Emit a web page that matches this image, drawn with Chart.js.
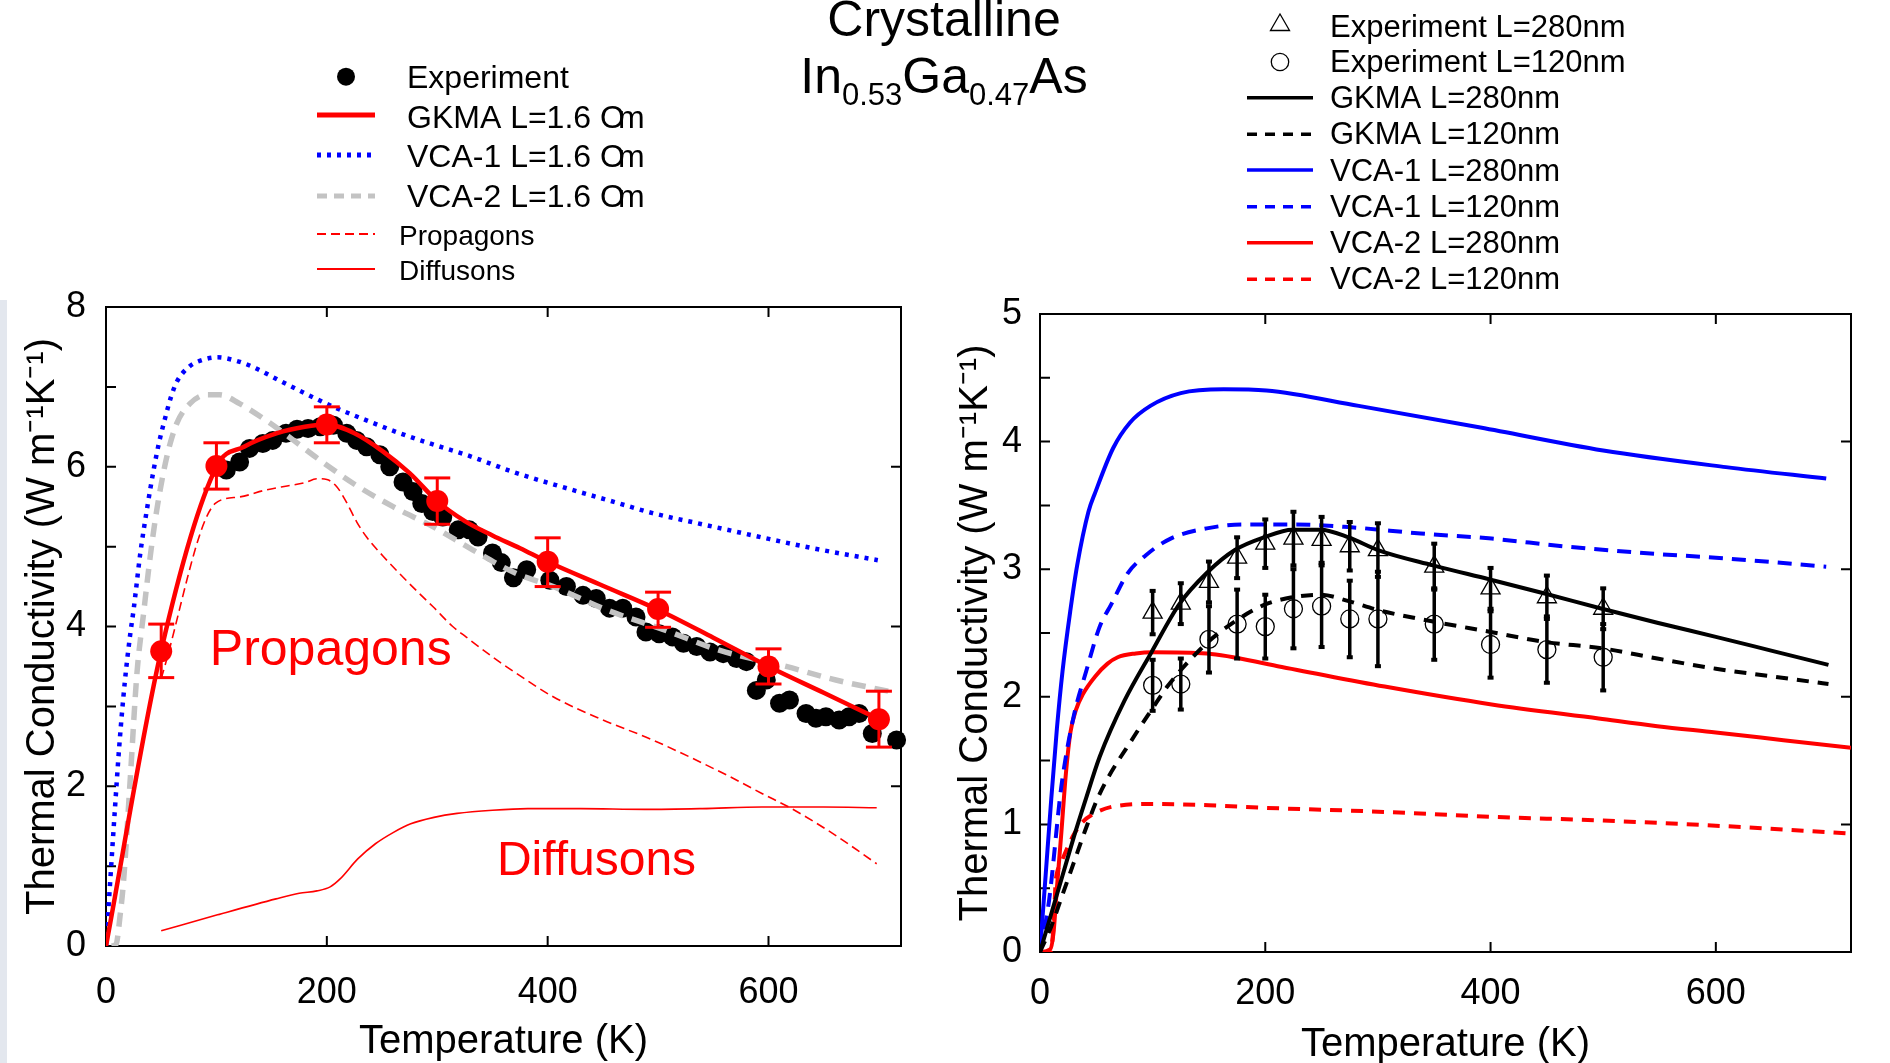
<!DOCTYPE html>
<html>
<head>
<meta charset="utf-8">
<script src="https://cdn.jsdelivr.net/npm/chart.js@4.4.1/dist/chart.umd.min.js"></script>
<style>
  html, body { margin: 0; padding: 0; background: #fff; }
  body { width: 1890px; height: 1063px; position: relative; overflow: hidden; font-family: "Liberation Sans", Arial, sans-serif; }
  canvas { position: absolute; top: 0; }
  #leftChart { left: 0; }
  #rightChart { left: 945px; }
  .title { position: absolute; left: 0; width: 1888px; text-align: center; font-size: 50px; line-height: 50px; color: #000; white-space: nowrap; }
  .title .sub { font-size: 31px; vertical-align: -12px; }
  #edge { position: absolute; left: 0; top: 300px; width: 7px; height: 763px; background: #e3e7ee; }
</style>
</head>
<body>
<div id="edge"></div>
<canvas id="leftChart" width="945" height="1063"></canvas>
<canvas id="rightChart" width="945" height="1063"></canvas>
<div class="title" style="top:-6px">Crystalline</div>
<div class="title" style="top:51px">In<span class="sub">0.53</span>Ga<span class="sub">0.47</span>As</div>
<script>
const FONT = "'Liberation Sans', Arial, sans-serif";
const RED = "#ff0000";
const BLUE = "#0000ff";
const GRAY = "#c3c3c3";
const BLACK = "#000000";

// ---- left panel, L = 1.6 um ----
const expT = [109,121,130,142,151,163,173,183,194,206,218,227,236,248,257,269,278,286,296,305,319,329,337,350,358,369,381,402,417,432,444,456,468,480,489,501,513,523,535,547,559,571,580,589,598,610,619,634,643,652,664,673,682,694,716];
const expK = [5.96,6.06,6.23,6.29,6.33,6.42,6.47,6.48,6.50,6.52,6.42,6.33,6.25,6.15,6.00,5.81,5.69,5.54,5.44,5.37,5.21,5.21,5.12,4.92,4.80,4.61,4.71,4.58,4.50,4.39,4.35,4.23,4.23,4.12,3.93,3.91,3.87,3.79,3.75,3.68,3.66,3.60,3.56,3.20,3.33,3.04,3.08,2.91,2.85,2.87,2.83,2.87,2.91,2.66,2.58];

const gkmaLineT = [0,50,100,125,155,180,200,225,251,275,300,325,350,375,400,450,500,550,600,650,700];
const gkmaLineK = [0,3.70,6.00,6.25,6.42,6.50,6.53,6.42,6.19,5.92,5.57,5.32,5.14,4.98,4.81,4.51,4.21,3.86,3.50,3.17,2.84];

const gkmaT = [50,100,200,300,400,500,600,700];
const gkmaK = [3.69,6.01,6.53,5.57,4.81,4.22,3.50,2.84];
const gkmaLo = [3.36,5.72,6.30,5.28,4.50,3.99,3.28,2.49];
const gkmaHi = [4.03,6.30,6.75,5.86,5.11,4.43,3.72,3.19];

const vca1T = [0,4,8,12,17,22,25,31,37,43,48,53,59,64,75,88,101,117,133,157,180,206,236,266,296,326,372,420,460,495,540,586,640,699];
const vca1K = [0,0.85,1.7,2.5,3.3,3.91,4.21,4.91,5.46,5.95,6.3,6.58,6.88,7.06,7.25,7.34,7.37,7.33,7.25,7.08,6.92,6.75,6.58,6.42,6.28,6.15,5.92,5.72,5.56,5.42,5.28,5.14,4.98,4.83];

const vca2T = [5,9,13,16,22,28,34,40,46,55,64,76,91,103,121,145,170,194,224,260,296,332,372,405,453,507,556,616,661,712];
const vca2K = [0,0.02,0.41,0.83,2.1,3.41,4.16,4.87,5.46,6.12,6.54,6.79,6.90,6.90,6.79,6.58,6.33,6.08,5.79,5.50,5.25,4.96,4.66,4.50,4.21,3.95,3.70,3.50,3.33,3.18];

const propT = [50,99,120,145,164,180,191,200,209,218,227,236,251,266,284,296,314,326,357,372,405,450,495,565,594,621,658,698];
const propK = [3.35,5.54,5.62,5.71,5.76,5.80,5.85,5.84,5.75,5.55,5.31,5.12,4.88,4.66,4.41,4.25,4.00,3.87,3.55,3.41,3.12,2.83,2.58,2.12,1.91,1.72,1.41,1.03];

const diffT = [50,101,154,175,191,203,212,228,244,260,276,297,318,350,382,430,488,540,594,650,698];
const diffK = [0.19,0.39,0.59,0.66,0.69,0.74,0.84,1.09,1.28,1.42,1.53,1.61,1.66,1.70,1.72,1.72,1.71,1.72,1.74,1.74,1.73];

// ---- right panel, L = 280 nm / 120 nm ----
const filmT = [100,125,150,175,200,225,250,275,300,350,400,450,500];
const exp280K = [2.66,2.73,2.90,3.09,3.20,3.24,3.23,3.18,3.15,3.02,2.85,2.78,2.69];
const exp280Err = [0.17,0.16,0.16,0.16,0.19,0.21,0.18,0.19,0.21,0.18,0.16,0.17,0.16];
const exp120K = [2.09,2.10,2.45,2.57,2.55,2.69,2.71,2.61,2.61,2.57,2.41,2.37,2.31];
const exp120Err = [0.20,0.20,0.26,0.27,0.25,0.31,0.32,0.30,0.37,0.28,0.26,0.26,0.26];

const gkma280T = [0,10,20,30,40,53,75,99,124,148,173,199,224,249,274,300,349,399,448,499,548,600,650,700];
const gkma280K = [0,0.3,0.6,0.9,1.18,1.53,1.97,2.35,2.73,2.97,3.15,3.25,3.31,3.31,3.25,3.15,3.03,2.92,2.81,2.69,2.58,2.47,2.36,2.25];
const gkma120T = [0,10,20,30,40,53,85,100,113,148,173,199,224,249,274,300,349,399,448,499,548,600,650,700];
const gkma120K = [0,0.2,0.45,0.7,0.95,1.24,1.71,1.91,2.08,2.42,2.59,2.72,2.78,2.80,2.75,2.68,2.59,2.51,2.43,2.38,2.30,2.22,2.16,2.10];

const vca1L280T = [0,5,10,15,20,27,33,43,49,65,80,98,125,163,201,283,391,500,609,698];
const vca1L280K = [0,0.6,1.2,1.75,2.2,2.68,3.03,3.45,3.6,3.95,4.15,4.28,4.38,4.41,4.40,4.28,4.11,3.93,3.80,3.71];
const vca1L120T = [0,8,19,30,41,53,63,78,94,116,148,180,227,274,338,401,464,546,600,698];
const vca1L120K = [0,0.4,1.3,1.85,2.2,2.55,2.72,2.97,3.11,3.24,3.32,3.35,3.35,3.33,3.28,3.24,3.18,3.12,3.09,3.02];

const vca2L280T = [0,9,12,15,19,23,27,32,38,49,60,69,85,100,148,211,306,401,496,548,600,660,720];
const vca2L280K = [0,0.02,0.15,0.5,0.94,1.4,1.72,1.9,2.02,2.16,2.26,2.31,2.34,2.35,2.34,2.24,2.08,1.94,1.83,1.77,1.72,1.66,1.60];
const vca2L120T = [0,9,12,14,18,22,30,38,49,65,100,150,200,300,400,500,600,716];
const vca2L120K = [0,0,0.2,0.56,0.68,0.77,0.92,1.02,1.09,1.14,1.16,1.15,1.13,1.10,1.06,1.03,0.99,0.93];

function pts(xs, ys) {
  return xs.map((x, i) => ({ x, y: ys[i] }));
}

function lineSet(label, xs, ys, color, width, dash) {
  return {
    label, data: pts(xs, ys), borderColor: color, backgroundColor: color,
    borderWidth: width, borderDash: dash || [], pointRadius: 0, showLine: true,
    cubicInterpolationMode: "monotone", fill: false,
  };
}

function markSet(label, xs, ys, style, radius, filled, color) {
  return {
    label, data: pts(xs, ys), showLine: false, pointStyle: style, pointRadius: radius,
    borderColor: color, backgroundColor: filled ? color : "rgba(0,0,0,0)",
    borderWidth: filled ? 0 : 1.3,
  };
}

// box around the plot with inward ticks on all four sides
function framePlugin(tickLen, rightStep) {
  return {
    id: "frame",
    beforeDatasetsDraw(chart) {
      const { ctx, chartArea: a, scales: { x, y } } = chart;
      ctx.save();
      ctx.strokeStyle = BLACK;
      ctx.lineWidth = 2;
      ctx.strokeRect(a.left, a.top, a.right - a.left, a.bottom - a.top);
      ctx.beginPath();
      x.ticks.forEach((t) => {
        const px = x.getPixelForValue(t.value);
        ctx.moveTo(px, a.bottom); ctx.lineTo(px, a.bottom - tickLen);
        ctx.moveTo(px, a.top); ctx.lineTo(px, a.top + tickLen);
      });
      y.ticks.forEach((t) => {
        const py = y.getPixelForValue(t.value);
        ctx.moveTo(a.left, py); ctx.lineTo(a.left + tickLen, py);
        const r = t.value / rightStep;
        if (Math.abs(r - Math.round(r)) < 1e-6) {
          ctx.moveTo(a.right, py); ctx.lineTo(a.right - tickLen, py);
        }
      });
      ctx.stroke();
      ctx.restore();
    },
  };
}

function errorBarPlugin(sets) {
  return {
    id: "errorBars",
    afterDatasetsDraw(chart) {
      const { ctx, scales: { x, y } } = chart;
      ctx.save();
      sets.forEach((s) => {
        ctx.strokeStyle = s.color;
        ctx.fillStyle = s.color;
        ctx.lineWidth = s.width;
        s.xs.forEach((v, i) => {
          const px = x.getPixelForValue(v);
          const y0 = y.getPixelForValue(s.lo[i]);
          const y1 = y.getPixelForValue(s.hi[i]);
          ctx.beginPath(); ctx.moveTo(px, y0); ctx.lineTo(px, y1); ctx.stroke();
          [y0, y1].forEach((py) => ctx.fillRect(px - s.capW / 2, py - s.capH / 2, s.capW, s.capH));
        });
      });
      ctx.restore();
    },
  };
}

function drawMark(ctx, style, x, y, r, filled, color) {
  ctx.beginPath();
  if (style === "triangle") {
    ctx.moveTo(x, y - r);
    ctx.lineTo(x + r * 0.866, y + r / 2);
    ctx.lineTo(x - r * 0.866, y + r / 2);
    ctx.closePath();
  } else {
    ctx.arc(x, y, r, 0, Math.PI * 2);
  }
  if (filled) { ctx.fillStyle = color; ctx.fill(); }
  else { ctx.strokeStyle = color; ctx.lineWidth = 1.3; ctx.stroke(); }
}

// legend drawn at fixed spots above each panel
function legendPlugin(box) {
  return {
    id: "panelLegend",
    afterDraw(chart) {
      const ctx = chart.ctx;
      ctx.save();
      box.items.forEach((it) => {
        ctx.setLineDash(it.dash || []);
        if (it.mark) {
          drawMark(ctx, it.mark, box.mx, it.my, it.r, it.filled, it.color);
        } else {
          ctx.strokeStyle = it.color;
          ctx.lineWidth = it.width;
          ctx.beginPath();
          ctx.moveTo(box.x0, it.ly);
          ctx.lineTo(box.x1, it.ly);
          ctx.stroke();
        }
        ctx.setLineDash([]);
        ctx.fillStyle = BLACK;
        ctx.textBaseline = "alphabetic";
        ctx.font = it.size + "px " + FONT;
        if (it.squeeze) {
          const head = it.text.slice(0, -1);
          ctx.fillText(head, it.tx, it.ty);
          ctx.fillText(it.text.slice(-1), it.tx + ctx.measureText(head).width - it.squeeze, it.ty);
        } else {
          ctx.fillText(it.text, it.tx, it.ty);
        }
      });
      ctx.restore();
    },
  };
}

function notesPlugin(notes) {
  return {
    id: "notes",
    afterDatasetsDraw(chart) {
      const { ctx, scales: { x, y } } = chart;
      ctx.save();
      ctx.fillStyle = RED;
      ctx.textBaseline = "alphabetic";
      notes.forEach((n) => {
        ctx.font = n.size + "px " + FONT;
        ctx.fillText(n.text, x.getPixelForValue(n.x), y.getPixelForValue(n.y));
      });
      ctx.restore();
    },
  };
}

function axes(o) {
  const tickFont = { family: FONT, size: 36, lineHeight: 1 };
  const titleFont = { family: FONT, size: 40, lineHeight: 1 };
  return {
    x: {
      type: "linear", min: 0, max: 720,
      grid: { display: false, drawTicks: false }, border: { display: false },
      ticks: { stepSize: 200, includeBounds: false, padding: o.xPad, color: BLACK, font: tickFont, maxRotation: 0 },
      title: { display: true, text: "Temperature (K)", color: BLACK, font: titleFont, padding: { top: 0, bottom: o.xTitlePad } },
      afterFit: (s) => { s.height = o.xH; },
    },
    y: {
      type: "linear", min: 0, max: o.yMax,
      grid: { display: false, drawTicks: false }, border: { display: false },
      ticks: {
        stepSize: o.yStep, padding: o.yPad, color: BLACK, font: tickFont,
        callback: (v) => (Math.abs(v / o.labelStep - Math.round(v / o.labelStep)) < 1e-6 ? String(v) : ""),
      },
      title: { display: true, text: "Thermal Conductivity (W m\u207B\u00B9K\u207B\u00B9)", color: BLACK, font: titleFont, padding: { top: o.yTitlePad, bottom: 0 } },
      afterFit: (s) => { s.width = o.yW; },
    },
  };
}

const baseOptions = {
  responsive: false, animation: false, events: [],
  plugins: { legend: { display: false }, tooltip: { enabled: false }, title: { display: false } },
};

// left chart
new Chart(document.getElementById("leftChart"), {
  type: "line",
  data: {
    datasets: [
      markSet("GKMA points", gkmaT, gkmaK, "circle", 11, true, RED),
      lineSet("GKMA L=1.6 \u00B5m", gkmaLineT, gkmaLineK, RED, 4.5),
      lineSet("Diffusons", diffT, diffK, RED, 1.6),
      lineSet("Propagons", propT, propK, RED, 1.6, [9, 5]),
      lineSet("VCA-1 L=1.6 \u00B5m", vca1T, vca1K, BLUE, 4.5, [4, 6]),
      lineSet("VCA-2 L=1.6 \u00B5m", vca2T, vca2K, GRAY, 5.5, [14, 9]),
      Object.assign(markSet("Experiment", expT, expK, "circle", 9.5, true, BLACK), { clip: false }),
    ],
  },
  options: Object.assign({}, baseOptions, {
    layout: { padding: { left: 0, top: 307, right: 44, bottom: 0 } },
    scales: axes({ xPad: 29, xTitlePad: 1, xH: 117, yMax: 8, yStep: 1, labelStep: 2, yPad: 20, yTitlePad: 23, yW: 106 }),
  }),
  plugins: [
    framePlugin(10, 2),
    errorBarPlugin([{ xs: gkmaT, lo: gkmaLo, hi: gkmaHi, color: RED, width: 3, capW: 26, capH: 3 }]),
    notesPlugin([
      { text: "Propagons", x: 94, y: 3.52, size: 50 },
      { text: "Diffusons", x: 354, y: 0.89, size: 48 },
    ]),
    legendPlugin({
      x0: 317, x1: 375, mx: 346,
      items: [
        { text: "Experiment", mark: "circle", r: 9, filled: true, color: BLACK, my: 76.7, tx: 407, ty: 88, size: 32 },
        { text: "GKMA L=1.6 Om", color: RED, width: 5, ly: 115, tx: 407, ty: 128, size: 32, squeeze: 7 },
        { text: "VCA-1 L=1.6 Om", color: BLUE, width: 5, dash: [4, 6], ly: 155, tx: 407, ty: 167, size: 32, squeeze: 7 },
        { text: "VCA-2 L=1.6 Om", color: GRAY, width: 5, dash: [10, 7], ly: 196, tx: 407, ty: 207, size: 32, squeeze: 7 },
        { text: "Propagons", color: RED, width: 2, dash: [9, 5], ly: 234, tx: 399, ty: 245, size: 28 },
        { text: "Diffusons", color: RED, width: 2, ly: 269, tx: 399, ty: 280, size: 28 },
      ],
    }),
  ],
});

// right chart
new Chart(document.getElementById("rightChart"), {
  type: "line",
  data: {
    datasets: [
      markSet("Experiment L=280nm", filmT, exp280K, "triangle", 11, false, BLACK),
      markSet("Experiment L=120nm", filmT, exp120K, "circle", 9, false, BLACK),
      lineSet("GKMA L=280nm", gkma280T, gkma280K, BLACK, 4),
      lineSet("GKMA L=120nm", gkma120T, gkma120K, BLACK, 4, [12, 9]),
      lineSet("VCA-1 L=280nm", vca1L280T, vca1L280K, BLUE, 4),
      lineSet("VCA-1 L=120nm", vca1L120T, vca1L120K, BLUE, 4, [14, 9]),
      lineSet("VCA-2 L=280nm", vca2L280T, vca2L280K, RED, 4),
      lineSet("VCA-2 L=120nm", vca2L120T, vca2L120K, RED, 4, [12, 9]),
    ],
  },
  options: Object.assign({}, baseOptions, {
    layout: { padding: { left: 0, top: 314, right: 39, bottom: 0 } },
    scales: axes({ xPad: 24.5, xTitlePad: -2, xH: 111, yMax: 5, yStep: 0.5, labelStep: 1, yPad: 18, yTitlePad: 11, yW: 95 }),
  }),
  plugins: [
    framePlugin(10, 1),
    errorBarPlugin([
      { xs: filmT, lo: exp280K.map((v, i) => v - exp280Err[i]), hi: exp280K.map((v, i) => v + exp280Err[i]), color: BLACK, width: 3.5, capW: 6, capH: 4 },
      { xs: filmT, lo: exp120K.map((v, i) => v - exp120Err[i]), hi: exp120K.map((v, i) => v + exp120Err[i]), color: BLACK, width: 3.5, capW: 6, capH: 4 },
    ]),
    legendPlugin({
      x0: 302, x1: 368, mx: 335,
      items: [
        { text: "Experiment L=280nm", mark: "triangle", r: 11, filled: false, color: BLACK, my: 25, tx: 385, ty: 36.7, size: 31 },
        { text: "Experiment L=120nm", mark: "circle", r: 8.7, filled: false, color: BLACK, my: 62, tx: 385, ty: 71.7, size: 31 },
        { text: "GKMA L=280nm", color: BLACK, width: 3.5, ly: 97.7, tx: 385, ty: 108.3, size: 31 },
        { text: "GKMA L=120nm", color: BLACK, width: 3.5, dash: [10, 8], ly: 134.3, tx: 385, ty: 144, size: 31 },
        { text: "VCA-1 L=280nm", color: BLUE, width: 3.5, ly: 170, tx: 385, ty: 181, size: 31 },
        { text: "VCA-1 L=120nm", color: BLUE, width: 3.5, dash: [10, 8], ly: 206.7, tx: 385, ty: 216.7, size: 31 },
        { text: "VCA-2 L=280nm", color: RED, width: 3.5, ly: 242.7, tx: 385, ty: 253.3, size: 31 },
        { text: "VCA-2 L=120nm", color: RED, width: 3.5, dash: [10, 8], ly: 279.3, tx: 385, ty: 289.3, size: 31 },
      ],
    }),
  ],
});
</script>
</body>
</html>
